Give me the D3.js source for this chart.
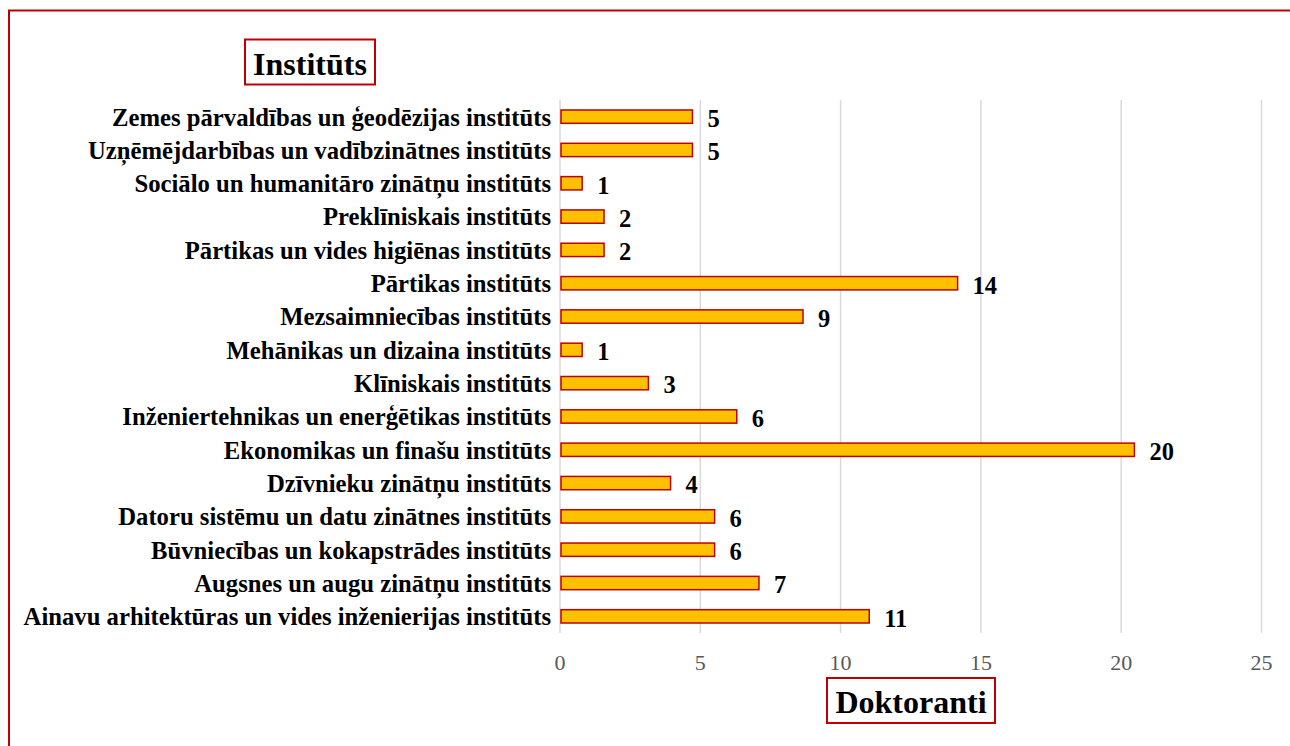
<!DOCTYPE html>
<html>
<head>
<meta charset="utf-8">
<script src="https://cdn.jsdelivr.net/npm/d3@7"></script>
<style>
  html, body { margin: 0; padding: 0; background: #fff; }
  svg { display: block; }
  text { font-family: "Liberation Serif", "Times New Roman", serif; }
</style>
</head>
<body>
<svg id="chart" width="1290" height="746"></svg>
<script>
// Categories, top to bottom as shown
const categories = [
  "Zemes pārvaldības un ģeodēzijas institūts",
  "Uzņēmējdarbības un vadībzinātnes institūts",
  "Sociālo un humanitāro zinātņu institūts",
  "Preklīniskais institūts",
  "Pārtikas un vides higiēnas institūts",
  "Pārtikas institūts",
  "Mezsaimniecības institūts",
  "Mehānikas un dizaina institūts",
  "Klīniskais institūts",
  "Inženiertehnikas un enerģētikas institūts",
  "Ekonomikas un finašu institūts",
  "Dzīvnieku zinātņu institūts",
  "Datoru sistēmu un datu zinātnes institūts",
  "Būvniecības un kokapstrādes institūts",
  "Augsnes un augu zinātņu institūts",
  "Ainavu arhitektūras un vides inženierijas institūts"
];
// Bar lengths
const barValues = [4.72, 4.72, 0.79, 1.57, 1.57, 14.17, 8.66, 0.79, 3.15, 6.30, 20.47, 3.94, 5.51, 5.51, 7.09, 11.02];
// Data labels printed next to bars
const dataLabels = [5, 5, 1, 2, 2, 14, 9, 1, 3, 6, 20, 4, 6, 6, 7, 11];
const xTicks = [0, 5, 10, 15, 20, 25];
const yTitle = "Institūts";
const xTitle = "Doktoranti";

const svg = d3.select("#chart");
const red = "#C00000";

// outer border
svg.append("rect")
  .attr("x", 9).attr("y", 10.5)
  .attr("width", 1300).attr("height", 800)
  .attr("fill", "none").attr("stroke", red).attr("stroke-width", 2);

const x = d3.scaleLinear().domain([0, 25]).range([560, 1261.5]);
const y = d3.scaleBand().domain(categories).range([100, 633])
  .paddingInner(0.6).paddingOuter(0.3);

// gridlines
svg.append("g").selectAll("line").data(xTicks).join("line")
  .attr("x1", d => x(d)).attr("x2", d => x(d))
  .attr("y1", 100).attr("y2", 633)
  .attr("stroke", "#d9d9d9").attr("stroke-width", 1.5);

// tick labels
svg.append("g").selectAll("text").data(xTicks).join("text")
  .attr("x", d => x(d)).attr("y", 670)
  .attr("text-anchor", "middle")
  .attr("font-size", 22)
  .attr("fill", "#595959")
  .text(d => d);

// bars
svg.append("g").selectAll("rect").data(categories).join("rect")
  .attr("x", x(0) + 1)
  .attr("y", d => y(d))
  .attr("width", (d, i) => x(barValues[i]) - x(0) - 1)
  .attr("height", y.bandwidth())
  .attr("fill", "#FFC000")
  .attr("stroke", red)
  .attr("stroke-width", 1.5);

// category labels
svg.append("g").selectAll("text").data(categories).join("text")
  .attr("x", 551)
  .attr("y", d => y(d) + y.bandwidth() / 2)
  .attr("dy", "0.36em")
  .attr("text-anchor", "end")
  .attr("font-size", 24.7)
  .attr("font-weight", "bold")
  .attr("fill", "#000")
  .text(d => d);

// data labels
svg.append("g").selectAll("text").data(categories).join("text")
  .attr("x", (d, i) => x(barValues[i]) + 15)
  .attr("y", d => y(d) + y.bandwidth() / 2)
  .attr("dy", "0.42em")
  .attr("font-size", 24.5)
  .attr("font-weight", "bold")
  .attr("fill", "#000")
  .text((d, i) => dataLabels[i]);

// axis titles in boxes
function boxedTitle(txt, cx, baseline, bx, by, bw, bh) {
  svg.append("rect").attr("x", bx).attr("y", by).attr("width", bw).attr("height", bh)
    .attr("fill", "#fff").attr("stroke", red).attr("stroke-width", 2);
  svg.append("text").attr("x", cx).attr("y", baseline)
    .attr("text-anchor", "middle")
    .attr("font-size", 32).attr("font-weight", "bold").attr("fill", "#000")
    .text(txt);
}
boxedTitle(yTitle, 310, 75, 245, 39.5, 130, 45);
boxedTitle(xTitle, 911, 713, 827, 678, 168, 45);
</script>
</body>
</html>
